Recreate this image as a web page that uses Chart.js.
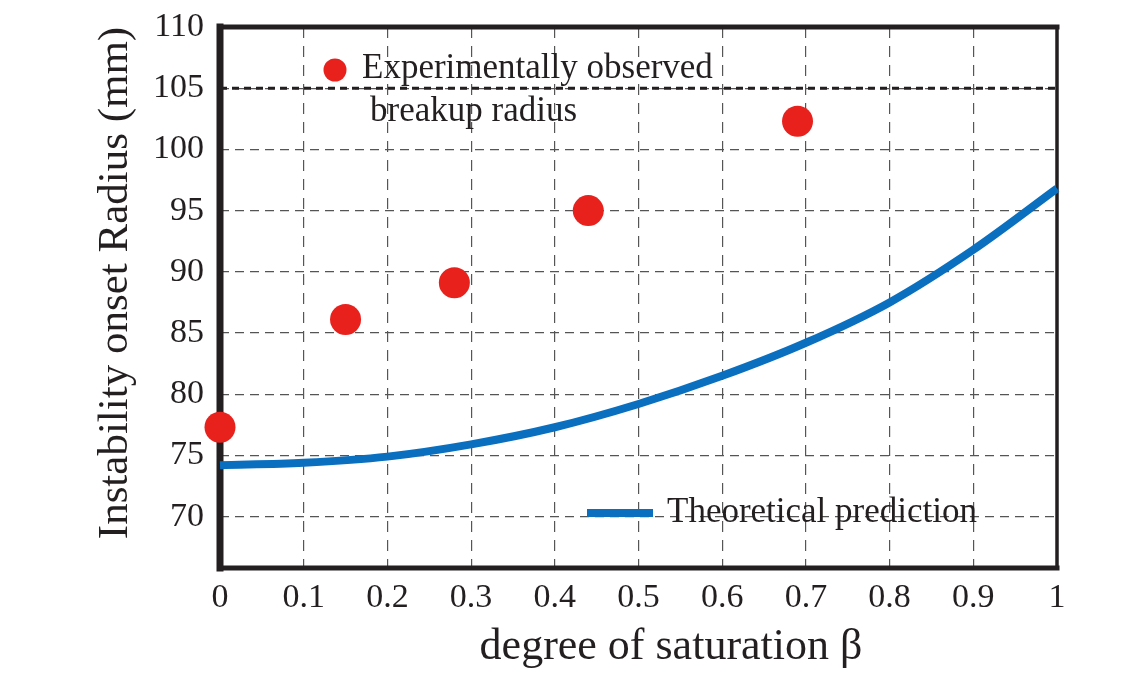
<!DOCTYPE html>
<html>
<head>
<meta charset="utf-8">
<script src="https://cdn.jsdelivr.net/npm/chart.js@4/dist/chart.umd.min.js"></script>
<style>
  html, body { margin: 0; padding: 0; background: #fff; }
  #wrap { width: 1142px; height: 690px; position: relative; }
</style>
</head>
<body>
<div id="wrap"><canvas id="chart"></canvas></div>
<script>
// data
const betaGrid = [0, 0.1, 0.2, 0.3, 0.4, 0.5, 0.6, 0.7, 0.8, 0.9, 1];
const theoryRadius = [74.2, 74.4, 74.9, 75.9, 77.3, 79.2, 81.5, 84.2, 87.5, 91.8, 96.8];
const expBeta = [0, 0.15, 0.28, 0.44, 0.69];
const expRadius = [77.3, 86.1, 89.1, 95.0, 102.3];
const breakupRadius = 105;
const xTickValues = [0, 0.1, 0.2, 0.3, 0.4, 0.5, 0.6, 0.7, 0.8, 0.9, 1];
const yTickValues = [70, 75, 80, 85, 90, 95, 100, 105, 110];

const FONT = "'Liberation Serif', 'DejaVu Serif', serif";
const INK = '#231f20';
const RED = '#e8211d';
const BLUE = '#0a6fbf';

const framePlugin = {
    id: 'frame',
    beforeDatasetsDraw(chart) {
        const { ctx, chartArea: a } = chart;
        ctx.save();
        ctx.strokeStyle = INK;
        ctx.lineCap = 'square';
        ctx.lineWidth = 5;
        ctx.beginPath(); ctx.moveTo(a.left, a.top); ctx.lineTo(a.right, a.top); ctx.stroke();
        ctx.beginPath(); ctx.moveTo(a.left, a.bottom); ctx.lineTo(a.right, a.bottom); ctx.stroke();
        ctx.lineWidth = 7;
        ctx.beginPath(); ctx.moveTo(a.left, a.top); ctx.lineTo(a.left, a.bottom); ctx.stroke();
        ctx.lineWidth = 3.5;
        ctx.beginPath(); ctx.moveTo(a.right, a.top); ctx.lineTo(a.right, a.bottom); ctx.stroke();
        ctx.restore();
    },
    afterDraw(chart) {
        const { ctx, chartArea: a } = chart;
        ctx.save();
        ctx.fillStyle = INK;
        ctx.textBaseline = 'middle';
        ctx.textAlign = 'left';
        // legend: experimental points
        ctx.fillStyle = RED;
        ctx.beginPath(); ctx.arc(335, 70, 11.5, 0, Math.PI * 2); ctx.fill();
        ctx.fillStyle = INK;
        ctx.font = '35px ' + FONT;
        ctx.fillText('Experimentally observed', 362, 69);
        ctx.fillText('breakup radius', 370, 112);
        // legend: theory line
        ctx.strokeStyle = BLUE;
        ctx.lineWidth = 8;
        ctx.beginPath(); ctx.moveTo(587, 513); ctx.lineTo(653, 513); ctx.stroke();
        ctx.fillText('Theoretical prediction', 667, 513);
        // axis titles
        ctx.font = '44px ' + FONT;
        ctx.textAlign = 'center';
        ctx.fillText('degree of saturation \u03b2', 671, 647);
        ctx.font = '43px ' + FONT;
        ctx.translate(116, 283);
        ctx.rotate(-Math.PI / 2);
        ctx.fillText('Instability onset Radius (mm)', 0, 0);
        ctx.restore();
    }
};

new Chart(document.getElementById('chart'), {
    type: 'scatter',
    data: {
        datasets: [
            {
                label: 'Experimentally observed breakup radius',
                data: expBeta.map((b, i) => ({ x: b, y: expRadius[i] })),
                backgroundColor: RED,
                borderWidth: 0,
                pointRadius: 15.5,
                clip: false,
                order: 0
            },
            {
                type: 'line',
                label: 'Theoretical prediction',
                data: betaGrid.map((b, i) => ({ x: b, y: theoryRadius[i] })),
                borderColor: BLUE,
                borderWidth: 8,
                pointRadius: 0,
                cubicInterpolationMode: 'monotone',
                clip: false,
                order: 1
            },
            {
                type: 'line',
                label: 'breakup',
                data: [{ x: 0, y: breakupRadius }, { x: 1, y: breakupRadius }],
                borderColor: INK,
                borderWidth: 3,
                borderDash: [7, 5],
                pointRadius: 0,
                order: 2
            }
        ]
    },
    options: {
        responsive: true,
        maintainAspectRatio: false,
        animation: false,
        layout: { padding: { top: 27, right: 85, left: 0, bottom: 0 } },
        plugins: { legend: { display: false }, tooltip: { enabled: false } },
        scales: {
            x: {
                type: 'linear',
                min: 0, max: 1,
                afterBuildTicks(s) { s.ticks = xTickValues.map(v => ({ value: v })); },
                afterFit(s) { s.height = 122; s.paddingLeft = 0; s.paddingRight = 0; },
                grid: { color: '#555', lineWidth: 1.2, drawTicks: false },
                border: { display: false, dash: [11, 8] },
                ticks: {
                    padding: 10,
                    color: INK,
                    font: { family: FONT, size: 34 },
                    maxRotation: 0,
                    callback: v => String(v)
                }
            },
            y: {
                type: 'linear',
                min: 65.8, max: 110,
                afterBuildTicks(s) { s.ticks = yTickValues.map(v => ({ value: v })); },
                afterFit(s) { s.width = 220; s.paddingTop = 0; s.paddingBottom = 0; },
                grid: { color: '#555', lineWidth: 1.2, drawTicks: false },
                border: { display: false, dash: [9, 6] },
                ticks: {
                    padding: 16,
                    color: INK,
                    font: { family: FONT, size: 34 },
                    callback: v => String(v)
                }
            }
        }
    },
    plugins: [framePlugin]
});
</script>
</body>
</html>
